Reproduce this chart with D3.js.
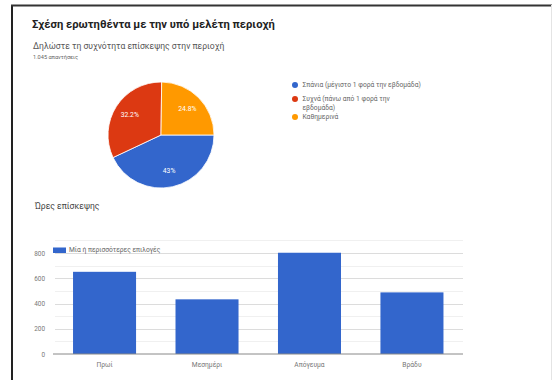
<!DOCTYPE html>
<html>
<head>
<meta charset="utf-8">
<script src="https://cdn.jsdelivr.net/npm/d3@7"></script>
<style>
  html, body { margin: 0; padding: 0; background: #fff; }
  svg { display: block; font-family: Roboto, "Liberation Sans", Arial, sans-serif; }
</style>
</head>
<body>
<svg id="chart" width="554" height="380"></svg>
<script>
// Visit frequency (pie)
const freqLabels = ["Σπάνια (μέγιστο 1 φορά την εβδομάδα)", "Συχνά (πάνω από 1 φορά την εβδομάδα)", "Καθημερινά"];
const freqShares = [43, 32.2, 24.8];
const freqText = ["43%", "32.2%", "24.8%"];
const freqColors = ["#3366cc", "#dc3912", "#ff9900"];

// Visit hours (bars)
const hourLabels = ["Πρωί", "Μεσημέρι", "Απόγευμα", "Βράδυ"];
const hourCounts = [651, 433, 802, 488];
const yTicks = [0, 200, 400, 600, 800];
const yMinor = [100, 300, 500, 700, 900];

const svg = d3.select("#chart");

// Card frame
svg.append("line").attr("x1", 12).attr("x2", 12).attr("y1", 5).attr("y2", 380)
  .attr("stroke", "#222").attr("stroke-width", 2);
svg.append("line").attr("x1", 11).attr("x2", 552).attr("y1", 5.5).attr("y2", 5.5)
  .attr("stroke", "#333").attr("stroke-width", 2);
svg.append("line").attr("x1", 551.5).attr("x2", 551.5).attr("y1", 5).attr("y2", 380)
  .attr("stroke", "#e4e4e4").attr("stroke-width", 1);

// Headings
svg.append("text").attr("x", 32).attr("y", 28)
  .attr("font-size", 11.2).attr("font-weight", "bold").attr("fill", "#222")
  .text("Σχέση ερωτηθέντα με την υπό μελέτη περιοχή");
svg.append("text").attr("x", 33).attr("y", 49)
  .attr("font-size", 8.6).attr("fill", "#555")
  .text("Δηλώστε τη συχνότητα επίσκεψης στην περιοχή");
svg.append("text").attr("x", 33).attr("y", 58.5)
  .attr("font-size", 5.6).attr("fill", "#666")
  .text("1.045 απαντήσεις");

// Pie
const cx = 161, cy = 135, r = 53;
const pie = d3.pie().sort(null).value(d => d)
  .startAngle(Math.PI / 2).endAngle(Math.PI / 2 + 2 * Math.PI);
const arcs = pie(freqShares);
const arc = d3.arc().innerRadius(0).outerRadius(r);
const labelArc = d3.arc().innerRadius(r * 0.7).outerRadius(r * 0.7);
const pg = svg.append("g").attr("transform", `translate(${cx},${cy})`);
pg.selectAll("path").data(arcs).join("path")
  .attr("d", arc)
  .attr("fill", (d, i) => freqColors[i])
  .attr("stroke", "#fff").attr("stroke-width", 0.8);
pg.selectAll("text").data(arcs).join("text")
  .attr("transform", d => `translate(${labelArc.centroid(d)})`)
  .attr("text-anchor", "middle").attr("dominant-baseline", "central")
  .attr("font-size", 6.8).attr("fill", "#fff")
  .text((d, i) => freqText[i]);

// Pie legend
const legendLines = [
  ["Σπάνια (μέγιστο 1 φορά την εβδομάδα)"],
  ["Συχνά (πάνω από 1 φορά την", "εβδομάδα)"],
  ["Καθημερινά"]
];
const legendY = [85, 99, 117];
const lg = svg.append("g");
legendLines.forEach((lines, i) => {
  lg.append("circle").attr("cx", 295).attr("cy", legendY[i]).attr("r", 3)
    .attr("fill", freqColors[i]);
  lines.forEach((t, j) => {
    lg.append("text").attr("x", 302.5).attr("y", legendY[i] + j * 9)
      .attr("dominant-baseline", "central")
      .attr("font-size", 6.7).attr("fill", "#666").text(t);
  });
});

// Bar chart heading
svg.append("text").attr("x", 35).attr("y", 209)
  .attr("font-size", 8.6).attr("fill", "#444")
  .text("Ώρες επίσκεψης");

// Bar chart
const x = d3.scaleBand().domain(hourLabels).range([55, 461.5])
  .paddingInner(0.385).paddingOuter(0.176);
const y = d3.scaleLinear().domain([0, 800]).range([354, 253]);

const grid = svg.append("g");
grid.selectAll("line.minor").data(yMinor).join("line").attr("class", "minor")
  .attr("x1", 55).attr("x2", 463)
  .attr("y1", d => Math.round(y(d)) + 0.5).attr("y2", d => Math.round(y(d)) + 0.5)
  .attr("stroke", "#f0f0f0").attr("stroke-width", 1);
grid.selectAll("line.major").data(yTicks.filter(v => v > 0)).join("line").attr("class", "major")
  .attr("x1", 55).attr("x2", 463)
  .attr("y1", d => Math.round(y(d)) + 0.5).attr("y2", d => Math.round(y(d)) + 0.5)
  .attr("stroke", "#dcdcdc").attr("stroke-width", 1);

const yAxis = svg.append("g").attr("transform", "translate(45,0)")
  .call(d3.axisLeft(y).tickValues(yTicks).tickSize(0).tickPadding(0));
yAxis.select(".domain").remove();
yAxis.selectAll("text").attr("font-size", 6.4).attr("fill", "#777")
  .attr("font-family", "Roboto, 'Liberation Sans', Arial, sans-serif");

svg.append("g").selectAll("rect").data(hourCounts).join("rect")
  .attr("x", (d, i) => x(hourLabels[i]))
  .attr("width", x.bandwidth())
  .attr("y", d => y(d))
  .attr("height", d => y(0) - y(d))
  .attr("fill", "#3366cc");

// Baseline
svg.append("line").attr("x1", 53).attr("x2", 463).attr("y1", 354).attr("y2", 354)
  .attr("stroke", "#888").attr("stroke-width", 1);

const xAxis = svg.append("g").attr("transform", "translate(0,354)")
  .call(d3.axisBottom(x).tickSize(0).tickPadding(8));
xAxis.select(".domain").remove();
xAxis.selectAll("text").attr("font-size", 6.7).attr("fill", "#777")
  .attr("font-family", "Roboto, 'Liberation Sans', Arial, sans-serif");

// Bar legend
svg.append("rect").attr("x", 53).attr("y", 247.5).attr("width", 13).attr("height", 5.5)
  .attr("fill", "#3366cc");
svg.append("text").attr("x", 69).attr("y", 250).attr("dominant-baseline", "central")
  .attr("font-size", 6.7).attr("fill", "#666")
  .text("Μία ή περισσότερες επιλογές");
</script>
</body>
</html>
